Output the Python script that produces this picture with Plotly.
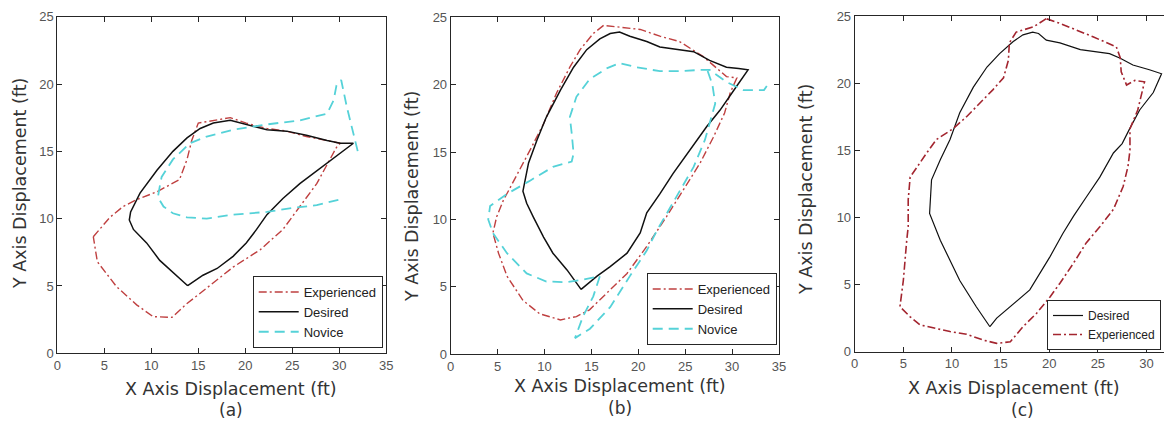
import plotly.graph_objects as go

W, H = 1164, 426

# ---------------- Panel (a) ----------------
a_desired_x = [13.87, 10.9, 9.5, 8.1, 7.66, 7.8, 8.8, 10.6, 12.3, 13.8, 15.2, 16.6, 18.4, 20.1, 22.3, 24.4,
               26.5, 28.7, 30.1, 31.5, 29.4, 27.6, 25.8, 24.0, 22.3, 21.2, 20.1, 18.7, 17.0, 15.5, 13.87]
a_desired_y = [5.02, 6.9, 8.2, 9.2, 9.9, 10.5, 11.9, 13.6, 15.0, 16.0, 16.7, 17.1, 17.3, 17.0, 16.6, 16.5,
               16.2, 15.8, 15.6, 15.6, 14.5, 13.6, 12.6, 11.5, 10.3, 9.2, 8.2, 7.2, 6.3, 5.8, 5.02]

a_exp_x = [3.83, 5.6, 7.0, 8.4, 10.6, 13.0, 13.8, 14.3, 15.0, 16.6, 18.4, 20.1, 22.3, 24.4, 26.5, 28.7,
           30.1, 29.7, 29.0, 27.6, 25.8, 24.0, 21.6, 18.7, 15.2, 13.8, 12.2, 10.2, 8.44, 6.3, 4.26, 3.83]
a_exp_y = [8.66, 10.1, 10.9, 11.4, 12.0, 12.9, 14.4, 15.8, 17.1, 17.3, 17.5, 17.1, 16.7, 16.5, 16.1, 15.8,
           15.6, 15.3, 14.4, 12.6, 10.9, 9.2, 7.7, 6.4, 4.46, 3.7, 2.67, 2.72, 3.6, 4.95, 6.8, 8.66]

a_nov_x = [29.9, 27.6, 25.1, 22.3, 18.7, 15.9, 13.8, 12.3, 11.3, 10.7, 10.9, 11.1, 12.3, 14.1, 15.9, 18.7,
           22.3, 25.8, 28.7, 29.4, 29.7, 30.2, 30.8, 31.5, 32.0]
a_nov_y = [11.4, 11.0, 10.8, 10.5, 10.3, 10.0, 10.1, 10.4, 10.9, 11.6, 12.4, 13.1, 14.4, 15.6, 16.1, 16.6,
           17.0, 17.3, 17.8, 18.8, 19.9, 20.3, 18.3, 16.3, 14.9]

# ---------------- Panel (b) ----------------
b_desired_x = [13.9, 12.4, 10.9, 9.9, 8.8, 8.1, 7.7, 7.9, 8.3, 9.2, 10.2, 11.7, 13.1, 14.5, 15.9, 17.0, 18.0,
               19.1, 20.9, 22.3, 25.9, 27.6, 29.4, 30.7, 31.7, 30.5, 28.7, 27.3, 25.2, 23.7, 22.3, 20.9,
               20.2, 18.8, 17.0, 15.6, 13.9]
b_desired_y = [4.82, 6.26, 7.5, 8.7, 10.2, 11.2, 12.1, 12.9, 14.2, 15.9, 17.6, 19.6, 21.3, 22.6, 23.4, 23.8,
               23.9, 23.6, 23.2, 22.8, 22.45, 21.8, 21.3, 21.2, 21.1, 19.9, 18.1, 16.9, 14.9, 13.4, 11.9,
               10.5, 9.0, 7.5, 6.5, 5.8, 4.82]

b_exp_x = [16.3, 15.2, 13.8, 12.7, 11.3, 9.9, 8.5, 6.7, 5.6, 4.9, 4.5, 5.1, 6.0, 7.7, 9.5, 11.7, 13.4, 14.8,
           16.6, 18.8, 20.9, 23.0, 24.8, 26.6, 28.0, 29.2, 29.8, 30.5, 29.4, 26.9, 24.4, 22.3, 20.2, 18.0,
           16.3]
b_exp_y = [24.4, 23.8, 22.6, 21.3, 19.4, 17.1, 15.2, 12.9, 11.4, 10.2, 9.0, 7.5, 5.8, 4.0, 3.0, 2.55, 2.8,
           3.3, 4.5, 6.0, 8.0, 10.2, 12.2, 14.2, 16.1, 17.9, 19.4, 20.5, 20.6, 22.1, 23.2, 23.6, 24.1,
           24.3, 24.4]

b_nov_x = [33.7, 33.4, 31.2, 29.4, 27.6, 26.6, 24.4, 22.3, 19.8, 18.0, 16.6, 14.8, 13.4, 12.7, 12.9, 13.1,
           12.9, 10.9, 8.5, 6.0, 4.2, 4.0, 4.5, 6.0, 8.1, 10.2, 12.4, 13.8, 15.9, 15.2, 14.1, 13.4, 13.25,
           14.85, 17.0, 19.1, 20.9, 22.0, 24.1, 25.9, 27.1, 27.8, 28.2, 27.9, 27.3]
b_nov_y = [19.9, 19.6, 19.6, 20.2, 21.1, 21.1, 21.0, 21.0, 21.3, 21.6, 21.2, 20.4, 19.1, 17.6, 16.4, 14.9,
           14.3, 13.9, 12.9, 11.9, 11.0, 10.0, 9.0, 7.5, 6.0, 5.4, 5.35, 5.5, 5.8, 4.3, 2.8, 1.6, 1.2,
           1.9, 3.5, 5.8, 7.7, 9.2, 11.7, 13.9, 15.9, 17.6, 18.6, 20.0, 21.2]

# ---------------- Panel (c) ----------------
c_desired_x = [13.9, 12.5, 10.8, 8.8, 7.7, 7.9, 8.8, 9.8, 10.8, 12.2, 13.6, 14.9, 16.3, 17.3, 18.3, 18.9,
               19.7, 21.1, 23.2, 26.2, 27.3, 28.6, 30.3, 31.55, 30.7, 29.3, 28.3, 27.5, 26.6, 25.2, 23.8,
               22.5, 21.4, 20.1, 18.0, 16.0, 14.6, 13.9]
c_desired_y = [1.86, 3.35, 5.3, 8.3, 10.3, 12.8, 14.3, 15.8, 17.8, 19.7, 21.2, 22.2, 23.1, 23.6, 23.8, 23.7,
               23.2, 23.0, 22.5, 22.2, 21.85, 21.35, 21.0, 20.7, 19.3, 18.0, 16.65, 15.5, 14.8, 13.0, 11.5,
               10.1, 8.8, 7.1, 4.6, 3.35, 2.5, 1.86]

c_exp_x = [19.7, 18.4, 16.6, 15.9, 15.8, 15.3, 14.2, 12.9, 11.5, 10.1, 8.4, 7.4, 5.7, 5.5, 5.5, 5.35, 5.0,
           4.65, 5.7, 6.7, 9.8, 11.5, 13.2, 14.6, 16.0, 17.3, 18.7, 20.1, 21.1, 22.5, 23.8, 25.2, 26.6,
           27.6, 28.1, 28.3, 28.3, 29.1, 29.5, 29.8, 28.8, 27.95, 27.4, 27.3, 26.9, 24.5, 21.1, 19.7]
c_exp_y = [24.8, 24.2, 23.8, 23.0, 21.7, 20.4, 19.5, 18.5, 17.5, 16.6, 15.8, 14.8, 13.0, 11.3, 9.3, 8.3,
           5.3, 3.35, 2.6, 2.0, 1.5, 1.3, 0.87, 0.62, 0.74, 1.86, 2.86, 4.1, 5.1, 6.6, 8.1, 9.3, 10.6,
           12.3, 13.8, 15.0, 16.6, 18.0, 19.1, 20.1, 20.2, 19.86, 20.85, 21.9, 22.7, 23.45, 24.45, 24.8]

x_ticks_ab = [0, 5, 10, 15, 20, 25, 30, 35]
x_ticks_c = [0, 5, 10, 15, 20, 25, 30]
y_ticks = [0, 5, 10, 15, 20, 25]

RED = "#bf4040"
RED_C = "#a3252f"
CYAN = "#55d2d8"
BLACK = "#111111"
EXP_DASH = "8px,3px,2px,3px"
NOV_DASH = "10px,6px"

fig = go.Figure()

def add(x, y, name, color, dash, width, xa, ya, leg):
    fig.add_trace(go.Scatter(x=x, y=y, mode="lines", name=name,
                             line=dict(color=color, dash=dash, width=width),
                             xaxis=xa, yaxis=ya, legend=leg, showlegend=True))

add(a_exp_x, a_exp_y, "Experienced", RED, EXP_DASH, 1.4, "x", "y", "legend")
add(a_desired_x, a_desired_y, "Desired", BLACK, "solid", 1.5, "x", "y", "legend")
add(a_nov_x, a_nov_y, "Novice", CYAN, NOV_DASH, 1.8, "x", "y", "legend")

add(b_exp_x, b_exp_y, "Experienced", RED, EXP_DASH, 1.4, "x2", "y2", "legend2")
add(b_desired_x, b_desired_y, "Desired", BLACK, "solid", 1.5, "x2", "y2", "legend2")
add(b_nov_x, b_nov_y, "Novice", CYAN, NOV_DASH, 1.8, "x2", "y2", "legend2")

add(c_desired_x, c_desired_y, "Desired", BLACK, "solid", 1.2, "x3", "y3", "legend3")
add(c_exp_x, c_exp_y, "Experienced", RED_C, EXP_DASH, 1.6, "x3", "y3", "legend3")

AX = "#262626"
tickfont = dict(family="Liberation Sans, Arial", size=13, color="#555555")

def xax(dom, rng, ticks, anchor):
    return dict(domain=dom, range=rng, tickvals=ticks, anchor=anchor, showline=True, linecolor=AX,
                linewidth=1, mirror="ticks", ticks="inside", ticklen=5, tickcolor=AX,
                showgrid=False, zeroline=False, tickfont=tickfont, fixedrange=True)

def yax(dom, anchor, mirror="ticks"):
    return dict(domain=dom, range=[0, 25], tickvals=y_ticks, anchor=anchor, showline=True, linecolor=AX,
                linewidth=1, mirror=mirror, ticks="inside", ticklen=5, tickcolor=AX,
                showgrid=False, zeroline=False, tickfont=tickfont, fixedrange=True)

def px_x(p):
    return p / W

def px_y(p):
    return 1 - p / H

legend_style = dict(bgcolor="white", bordercolor=AX, borderwidth=1,
                    font=dict(family="Liberation Sans, Arial", size=13, color="#222222"),
                    itemwidth=40, tracegroupgap=0, traceorder="normal")
legend_style_c = dict(bgcolor="white", bordercolor=AX, borderwidth=1,
                      font=dict(family="Liberation Sans, Arial", size=12, color="#222222"),
                      itemwidth=30, tracegroupgap=0, traceorder="normal")

title_font = dict(family="DejaVu Sans, Verdana", size=17.5, color="#333333")
label_font = dict(family="DejaVu Sans, Verdana", size=17, color="#333333")
annotations = []
for cx, cy, text, f in [(231, 389, "X Axis Displacement (ft)", title_font), (231, 410, "(a)", label_font),
                        (620, 386, "X Axis Displacement (ft)", title_font), (620, 408, "(b)", label_font),
                        (1014, 388, "X Axis Displacement (ft)", title_font), (1022, 410, "(c)", label_font)]:
    annotations.append(dict(x=px_x(cx), y=px_y(cy), xref="paper", yref="paper", text=text,
                            showarrow=False, xanchor="center", yanchor="middle", font=f))
for cx, cy in [(20, 184), (412, 197), (806, 190)]:
    annotations.append(dict(x=px_x(cx), y=px_y(cy), xref="paper", yref="paper",
                            text="Y Axis Displacement (ft)", textangle=-90,
                            showarrow=False, xanchor="center", yanchor="middle", font=title_font))

fig.update_layout(
    width=W, height=H,
    margin=dict(l=0, r=0, t=0, b=0, autoexpand=False),
    paper_bgcolor="white", plot_bgcolor="white",
    xaxis=xax([px_x(57.3), px_x(386.3)], [0, 35], x_ticks_ab, "y"),
    yaxis=yax([px_y(353.3), px_y(16.7)], "x"),
    xaxis2=xax([px_x(450.7), px_x(779)], [0, 35], x_ticks_ab, "y2"),
    yaxis2=yax([px_y(354.3), px_y(17.3)], "x2"),
    xaxis3=xax([px_x(854.7), 1.0], [0, 31.8], x_ticks_c, "y3"),
    yaxis3=yax([px_y(351.7), px_y(16)], "x3", mirror=False),
    legend=dict(x=px_x(382.7), y=px_y(348), xanchor="right", yanchor="bottom", **legend_style),
    legend2=dict(x=px_x(776.7), y=px_y(345), xanchor="right", yanchor="bottom", **legend_style),
    legend3=dict(x=px_x(1047), y=px_y(350), xanchor="left", yanchor="bottom", **legend_style_c),
    annotations=annotations,
)

fig.write_html("out.html")
